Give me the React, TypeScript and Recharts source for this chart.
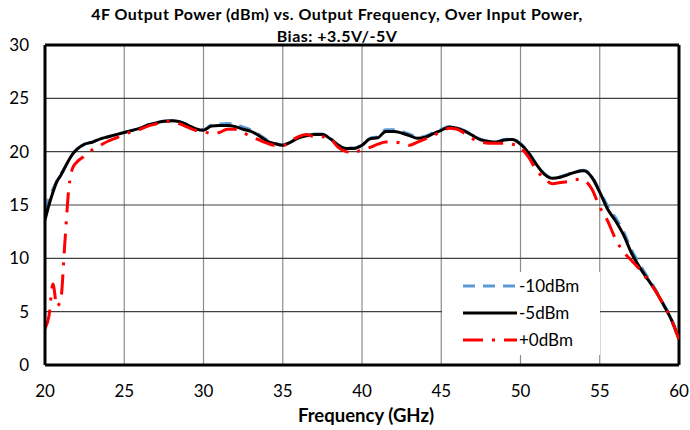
import React from "react";
import {
  LineChart,
  Line,
  XAxis,
  YAxis,
  CartesianGrid,
  ReferenceLine,
} from "recharts";

if (typeof document !== "undefined") {
  document.body.style.margin = "0";
}

// Frequency points (GHz) - finer near the low end where the +0dBm trace jumps around
const freqs = [
  20, 20.25, 20.5, 20.75, 21, 21.25, 21.5, 21.75, 22, 22.5, 23, 23.5, 24, 24.5,
  25, 25.5, 26, 26.5, 27, 27.5, 28, 28.5, 29, 29.5, 30, 30.5, 31, 31.5, 32,
  32.5, 33, 33.5, 34, 34.5, 35, 35.5, 36, 36.5, 37, 37.5, 38, 38.5, 39, 39.5,
  40, 40.5, 41, 41.5, 42, 42.5, 43, 43.5, 44, 44.5, 45, 45.5, 46, 46.5, 47,
  47.5, 48, 48.5, 49, 49.5, 50, 50.5, 51, 51.5, 52, 52.5, 53, 53.5, 54, 54.5,
  55, 55.5, 56, 56.5, 57, 57.5, 58, 58.5, 59, 59.5, 60,
];

// Output power (dBm) for each input drive level
const pinM10 = [
  14.5, 15.6, 16.5, 17.3, 17.9, 18.5, 19.2, 19.8, 20.2, 20.7, 20.9, 21.2, 21.4, 21.6,
  21.8, 22.0, 22.2, 22.5, 22.7, 22.85, 22.9, 22.8, 22.5, 22.15, 22.05, 22.5, 22.6, 22.65, 22.55,
  22.3, 22.05, 21.6, 21.1, 20.8, 20.65, 20.95, 21.35, 21.55, 21.65, 21.65, 21.25, 20.65, 20.35, 20.35,
  20.65, 21.25, 21.4, 22.05, 22.05, 21.9, 21.65, 21.35, 21.45, 21.8, 22.1, 22.35, 22.25, 21.95, 21.55,
  21.15, 21.0, 20.95, 21.15, 21.2, 20.75, 19.95, 18.85, 17.95, 17.55, 17.65, 17.9, 18.15, 18.25, 17.7,
  16.3, 14.9, 13.8, 12.5, 10.8, 9.5, 8.3, 7.1, 5.8, 4.4, 2.5,
];

const pinM5 = [
  13.6, 15.0, 16.2, 17.2, 17.8, 18.5, 19.2, 19.8, 20.2, 20.7, 20.9, 21.2, 21.4, 21.6,
  21.8, 22.0, 22.2, 22.5, 22.7, 22.85, 22.9, 22.8, 22.5, 22.15, 22.0, 22.4, 22.45, 22.45, 22.35,
  22.1, 21.9, 21.5, 21.0, 20.75, 20.6, 20.9, 21.3, 21.5, 21.6, 21.6, 21.2, 20.6, 20.3, 20.3,
  20.6, 21.2, 21.3, 21.9, 21.9, 21.75, 21.5, 21.25, 21.35, 21.7, 22.0, 22.3, 22.2, 21.9, 21.5,
  21.1, 20.95, 20.9, 21.1, 21.15, 20.7, 19.9, 18.8, 17.9, 17.5, 17.6, 17.85, 18.1, 18.2, 17.6,
  16.2, 14.6, 13.5, 12.2, 10.5, 9.2, 8.1, 7.0, 5.7, 4.3, 2.4,
];

const pin0 = [
  3.4, 4.6, 7.6, 5.5, 6.2, 11.4, 16.5, 18.5, 19.0, 19.6, 20.2, 20.6, 21.0, 21.3,
  21.6, 21.9, 22.1, 22.4, 22.6, 22.8, 22.85, 22.6, 22.3, 22.0, 21.9, 21.7, 21.8, 22.1, 22.1,
  21.8, 21.4, 21.1, 20.8, 20.6, 20.6, 21.0, 21.4, 21.6, 21.4, 21.4, 21.2, 20.4, 20.0, 19.9,
  20.2, 20.4, 20.7, 20.9, 20.9, 20.8, 20.6, 20.9, 21.2, 21.5, 21.9, 22.2, 22.1, 21.7, 21.2,
  20.9, 20.8, 20.8, 20.8, 20.7, 20.4, 19.5, 18.3, 17.5, 17.0, 17.1, 17.2, 17.4, 17.3, 16.5,
  14.8, 13.5, 11.8, 10.6, 9.8, 9.0, 8.0, 7.0, 5.7, 4.3, 2.4,
];

const xTicks = [20, 25, 30, 35, 40, 45, 50, 55, 60];
const yTicks = [0, 5, 10, 15, 20, 25, 30];

const seriesInfo = [
  { key: "m10", name: "-10dBm", color: "#5B9BD5", dash: "12 8" },
  { key: "m5", name: "-5dBm", color: "#000000", dash: undefined },
  { key: "p0", name: "+0dBm", color: "#FF0000", dash: "20 9 3 9" },
];

const data = freqs.map((f, i) => ({
  freq: f,
  m10: pinM10[i],
  m5: pinM5[i],
  p0: pin0[i],
}));

const FONT = "Lato, 'Open Sans', sans-serif";

// legend sits inside the plot, bottom right, white box without border
const LegendBox = () => (
  <div
    style={{
      position: "absolute",
      left: 442,
      top: 272,
      width: 158,
      height: 83,
      boxSizing: "border-box",
      background: "#fff",
      fontFamily: FONT,
      fontSize: 17,
      color: "#000",
      zIndex: 2,
    }}
  >
    {seriesInfo.map((s) => (
      <div key={s.key} style={{ display: "flex", alignItems: "center", height: 27 }}>
        <svg width={77} height={10}>
          <line
            x1={21}
            x2={75}
            y1={5}
            y2={5}
            stroke={s.color}
            strokeWidth={3}
            strokeDasharray={s.dash}
          />
        </svg>
        <span>{s.name}</span>
      </div>
    ))}
  </div>
);

export default function App() {
  return (
    <div style={{ position: "relative", width: 690, height: 430, background: "#fff" }}>
      <div
        style={{
          position: "absolute",
          left: 0,
          top: 3,
          width: 674,
          textAlign: "center",
          whiteSpace: "nowrap",
          fontFamily: FONT,
          fontWeight: 700,
          fontSize: 16,
          letterSpacing: 0.5,
          lineHeight: "22px",
          color: "#000",
          zIndex: 2,
        }}
      >
        4F Output Power (dBm) vs. Output Frequency, Over Input Power,
        <br />
        Bias: +3.5V/-5V
      </div>
      <LineChart
        width={690}
        height={430}
        data={data}
        margin={{ top: 45, right: 11, left: 0, bottom: 0 }}
      >
        <CartesianGrid horizontal={false} stroke="#8c8c8c" strokeWidth={1.2} />
        <CartesianGrid vertical={false} stroke="#404040" strokeWidth={1.2} />
        <XAxis
          dataKey="freq"
          type="number"
          domain={[20, 60]}
          ticks={xTicks}
          interval={0}
          allowDataOverflow
          height={65}
          tickLine={false}
          tickMargin={14}
          axisLine={{ stroke: "#000", strokeWidth: 3 }}
          tick={{ fontSize: 17, fill: "#000", fontFamily: FONT }}
          label={{
            value: "Frequency (GHz)",
            position: "insideBottom",
            offset: 8,
            dx: 4,
            style: { fontSize: 18.5, fontWeight: 700, fill: "#000", fontFamily: FONT },
          }}
        />
        <YAxis
          type="number"
          domain={[0, 30]}
          ticks={yTicks}
          interval={0}
          width={45}
          tickLine={false}
          tickMargin={10}
          axisLine={{ stroke: "#000", strokeWidth: 3 }}
          tick={{ fontSize: 17, fill: "#000", fontFamily: FONT }}
        />
        <ReferenceLine y={30} stroke="#000" strokeWidth={3} />
        <ReferenceLine x={60} stroke="#000" strokeWidth={3} />
        {seriesInfo.map((s) => (
          <Line
            key={s.key}
            dataKey={s.key}
            name={s.name}
            type="monotone"
            stroke={s.color}
            strokeWidth={3}
            strokeDasharray={s.dash}
            dot={false}
            activeDot={false}
            isAnimationActive={false}
          />
        ))}
      </LineChart>
      <LegendBox />
    </div>
  );
}
